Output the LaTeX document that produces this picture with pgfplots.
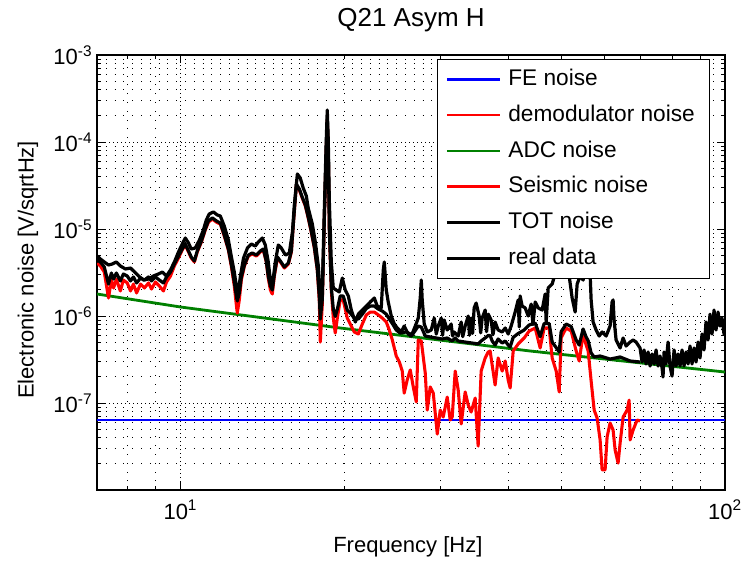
\documentclass[border=0pt]{standalone}
\usepackage{fontspec}
\setmainfont{Liberation Sans}
\usepackage{pgfplots}
\pgfplotsset{compat=1.18}
\definecolor{mgreen}{RGB}{0,128,0}

\begin{document}
\begin{tikzpicture}
\path[use as bounding box] (-72.75pt,-57.75pt) rectangle (483pt,367.5pt);
\begin{axis}[
  at={(0pt,0pt)}, anchor=south west,
  scale only axis, width=471pt, height=326.25pt,
  xmode=log, ymode=log,
  xmin=7.03, xmax=100, ymin=1e-8, ymax=1e-3,
  xtick={10,100},
  xticklabels={10\textsuperscript{1},10\textsuperscript{2}},
  ytick={1e-7,1e-6,1e-5,1e-4,1e-3},
  yticklabels={10\textsuperscript{-7},10\textsuperscript{-6},10\textsuperscript{-5},10\textsuperscript{-4},10\textsuperscript{-3}},
  minor xtick={8,9,20,30,40,50,60,70,80,90},
  minor ytick={2e-8,3e-8,4e-8,5e-8,6e-8,7e-8,8e-8,9e-8,
               2e-7,3e-7,4e-7,5e-7,6e-7,7e-7,8e-7,9e-7,
               2e-6,3e-6,4e-6,5e-6,6e-6,7e-6,8e-6,9e-6,
               2e-5,3e-5,4e-5,5e-5,6e-5,7e-5,8e-5,9e-5,
               2e-4,3e-4,4e-4,5e-4,6e-4,7e-4,8e-4,9e-4},
  tick align=inside, major tick length=6pt, minor tick length=3pt,
  tick style={black, line width=0.6pt},
  grid=both,
  major grid style={black, line width=0.6pt, dash pattern=on 0.6pt off 2.4pt},
  minor grid style={black, line width=0.6pt, dash pattern=on 0.6pt off 6pt},
  axis line style={black, line width=0.8pt},
  tick label style={font=\fontsize{16.5}{19}\selectfont},
  xticklabel style={yshift=-4pt},
  title={Q21 Asym H},
  title style={at={(0.5,1.0626)}, anchor=center, font=\fontsize{19.5}{23}\selectfont},
  xlabel={Frequency [Hz]},
  xlabel style={at={(0.495,-0.131)}, anchor=center, font=\fontsize{16.5}{19}\selectfont},
  ylabel={Electronic noise [V/sqrtHz]},
  ylabel style={at={(-0.110,0.506)}, anchor=center, font=\fontsize{16.5}{19}\selectfont},
  legend style={at={(0.976,0.991)}, anchor=north east, draw=black, line width=0.6pt,
    fill=white, font=\fontsize{17}{20}\selectfont, inner xsep=6pt, inner ysep=7pt,
    row sep=10.9pt, nodes={inner xsep=5pt, inner ysep=0pt, text height=12.5pt, text depth=3.5pt}},
  legend cell align=left,
  legend image code/.code={\draw[#1] (0pt,0pt) -- (40pt,0pt);},
  every axis plot/.append style={line join=round},
]
% FE noise
\addplot[blue, line width=2.1pt] coordinates {(7.03,6.37e-8) (100,6.37e-8)};
\addlegendentry{FE noise}
\addlegendimage{color=red, line width=1.1pt}
\addlegendentry{demodulator noise}
% ADC noise
\addplot[mgreen, line width=2.1pt] coordinates {
(7.03,1.79e-6) (10,1.27e-6) (19.66,7.28e-7) (43.88,3.96e-7) (100,2.27e-7)};
\addlegendentry{ADC noise}
% Seismic noise
\addplot[red, line width=2.3pt] coordinates {
(7.04,4.07e-6) (7.13,3.76e-6) (7.25,3.20e-6) (7.38,1.61e-6) (7.47,2.59e-6) (7.54,2.10e-6) (7.63,2.66e-6) (7.76,1.94e-6) (7.86,2.59e-6) (7.99,2.40e-6) (8.10,1.94e-6) (8.20,2.33e-6) (8.31,1.84e-6) (8.45,2.33e-6) (8.59,2.10e-6) (8.74,2.40e-6) (8.85,2.04e-6) (9.00,2.46e-6) (9.15,2.21e-6) (9.31,1.94e-6) (9.43,2.46e-6) (9.59,2.88e-6) (9.75,3.76e-6) (9.92,4.64e-6)
(10.08,5.74e-6) (10.21,6.55e-6) (10.35,5.44e-6) (10.47,4.64e-6) (10.61,4.18e-6) (10.74,5.44e-6) (10.93,7.09e-6) (11.11,9.73e-6) (11.26,1.20e-5) (11.45,1.30e-5) (11.64,1.20e-5) (11.84,1.14e-5) (12.04,8.30e-6) (12.25,5.74e-6) (12.40,3.76e-6) (12.56,2.21e-6) (12.67,1.34e-6) (12.72,1.08e-6) (12.83,1.53e-6) (12.94,2.59e-6) (13.11,3.76e-6) (13.33,4.89e-6) (13.55,5.16e-6) (13.79,4.89e-6)
(14.02,5.44e-6) (14.20,5.74e-6) (14.38,4.18e-6) (14.50,2.73e-6) (14.63,1.99e-6) (14.75,1.79e-6) (14.88,2.88e-6) (15.07,4.64e-6) (15.26,4.18e-6) (15.52,3.56e-6) (15.79,3.96e-6) (15.99,5.44e-6) (16.12,1.11e-5) (16.33,3.20e-5) (16.54,2.81e-5) (16.74,2.27e-5) (16.96,1.84e-5) (17.17,1.34e-5) (17.39,9.23e-6) (17.62,6.05e-6) (17.84,3.38e-6) (17.99,1.53e-6)
(18.07,5.02e-7) (18.22,1.34e-6) (18.38,1.27e-5) (18.53,8.09e-5) (18.61,1.79e-4) (18.69,8.09e-5) (18.77,9.73e-6) (18.93,1.99e-6) (19.09,9.48e-7) (19.25,6.37e-7) (19.42,9.48e-7) (19.66,1.53e-6) (19.91,1.53e-6) (20.25,9.48e-7) (20.51,8.09e-7) (20.86,6.55e-7) (21.22,6.21e-7) (21.58,8.09e-7) (21.95,1.03e-6) (22.32,1.11e-6) (22.70,1.11e-6) (23.09,1.03e-6) (23.48,9.48e-7) (23.88,8.53e-7) (24.19,6.90e-7) (24.50,5.30e-7) (24.91,3.47e-7)
(25.24,2.96e-7) (25.55,2.33e-7) (25.76,1.30e-7) (26.09,1.84e-7) (26.43,2.40e-7) (26.77,1.53e-7) (27.11,1.03e-7) (27.34,5.30e-7) (27.69,5.16e-7) (28.16,2.21e-7) (28.40,8.30e-8) (28.76,1.53e-7) (29.13,1.30e-7) (29.63,4.40e-8) (30.00,8.30e-8) (30.38,6.90e-8) (30.90,1.17e-7) (31.29,6.37e-8) (31.56,6.90e-8) (31.96,2.33e-7) (32.37,1.41e-7) (32.78,5.74e-8) (33.34,1.34e-7) (33.77,9.48e-8) (34.19,7.88e-8) (34.78,1.14e-7) (35.22,3.20e-8)
(35.67,2.33e-7) (36.28,3.29e-7) (36.75,3.86e-7) (37.05,3.96e-7) (37.37,2.73e-7) (37.84,1.61e-7) (38.33,3.29e-7) (38.99,2.33e-7) (39.49,3.04e-7) (39.99,1.84e-7) (40.32,1.49e-7) (40.84,3.96e-7) (41.71,4.77e-7) (42.78,5.59e-7) (43.70,6.72e-7) (44.82,7.28e-7) (45.77,4.29e-7) (46.55,7.28e-7) (47.55,7.28e-7) (48.16,3.29e-7) (48.98,2.33e-7) (49.61,1.34e-7)
(50.02,5.59e-7) (51.09,7.28e-7) (52.18,6.72e-7) (53.30,3.96e-7) (53.98,3.04e-7) (54.89,6.21e-7) (55.59,4.64e-7) (56.07,3.96e-7) (56.78,1.79e-7) (57.51,8.30e-8) (58.24,6.72e-8) (58.98,3.76e-8) (59.48,1.70e-8) (60.24,1.70e-8) (60.75,4.07e-8) (61.52,5.89e-8) (62.31,4.89e-8) (62.84,2.88e-8) (63.64,2.04e-8) (64.18,3.47e-8) (65.00,6.90e-8) (66.11,8.30e-8) (66.68,1.08e-7) (66.95,3.76e-8) (67.81,4.89e-8) (68.97,6.37e-8) (69.83,6.21e-8)};
\addlegendentry{Seismic noise}
% TOT noise
\addplot[black, line width=2.4pt] coordinates {
(7.04,4.40e-6) (7.13,4.18e-6) (7.25,3.66e-6) (7.38,2.33e-6) (7.47,3.12e-6) (7.54,2.66e-6) (7.63,3.12e-6) (7.76,2.53e-6) (7.86,3.04e-6) (7.99,2.88e-6) (8.10,2.53e-6) (8.20,2.81e-6) (8.31,2.40e-6) (8.45,2.73e-6) (8.59,2.59e-6) (8.74,2.81e-6) (8.85,2.53e-6) (9.00,2.81e-6) (9.15,2.59e-6) (9.31,2.40e-6) (9.43,2.81e-6) (9.59,3.20e-6) (9.75,3.96e-6) (9.92,4.89e-6)
(10.08,5.89e-6) (10.21,6.72e-6) (10.35,5.59e-6) (10.47,4.77e-6) (10.61,4.29e-6) (10.74,5.59e-6) (10.93,7.28e-6) (11.11,1.00e-5) (11.26,1.24e-5) (11.45,1.34e-5) (11.64,1.24e-5) (11.84,1.17e-5) (12.04,8.53e-6) (12.25,5.89e-6) (12.40,3.96e-6) (12.56,2.46e-6) (12.67,1.70e-6) (12.72,1.49e-6) (12.83,1.84e-6) (12.94,2.81e-6) (13.11,3.86e-6) (13.33,5.02e-6) (13.55,5.30e-6) (13.79,5.02e-6)
(14.02,5.59e-6) (14.20,5.89e-6) (14.38,4.29e-6) (14.50,2.88e-6) (14.63,2.21e-6) (14.75,1.99e-6) (14.88,3.04e-6) (15.07,4.77e-6) (15.26,4.29e-6) (15.52,3.66e-6) (15.79,4.07e-6) (15.99,5.59e-6) (16.12,1.14e-5) (16.33,3.29e-5) (16.54,2.88e-5) (16.74,2.33e-5) (16.96,1.89e-5) (17.17,1.37e-5) (17.39,9.48e-6) (17.62,6.21e-6) (17.84,3.47e-6) (17.99,1.70e-6)
(18.07,9.23e-7) (18.22,1.53e-6) (18.38,1.30e-5) (18.53,8.30e-5) (18.61,1.84e-4) (18.69,8.30e-5) (18.77,1.00e-5) (18.93,2.15e-6) (19.09,1.20e-6) (19.25,9.90e-7) (19.42,1.20e-6) (19.66,1.70e-6) (19.91,1.70e-6) (20.25,1.17e-6) (20.51,1.08e-6) (20.86,9.48e-7) (21.22,9.23e-7) (21.58,1.05e-6) (21.95,1.22e-6) (22.32,1.30e-6) (22.70,1.30e-6) (23.09,1.20e-6) (23.48,1.14e-6) (23.88,1.05e-6) (24.19,9.23e-7) (24.50,8.20e-7) (24.91,6.90e-7)
(25.33,6.37e-7) (25.98,6.55e-7) (26.65,6.05e-7) (27.34,7.67e-7) (27.69,7.47e-7) (28.16,5.89e-7) (28.76,5.74e-7) (29.50,5.59e-7) (30.26,5.44e-7) (30.90,5.59e-7) (31.56,5.16e-7) (31.96,5.59e-7) (32.37,5.16e-7) (33.34,5.02e-7) (34.34,4.89e-7) (35.22,4.77e-7) (35.67,5.16e-7) (36.28,5.59e-7) (36.75,5.97e-7) (37.05,5.97e-7) (37.37,5.16e-7) (37.84,4.64e-7) (38.33,5.44e-7) (38.99,4.89e-7) (39.49,5.16e-7) (39.99,4.64e-7)
(40.32,4.40e-7) (40.84,5.69e-7) (41.71,6.29e-7) (42.78,6.90e-7) (43.70,7.88e-7) (44.82,8.30e-7) (45.77,5.78e-7) (46.55,8.20e-7) (47.55,8.20e-7) (48.16,5.02e-7) (48.98,4.33e-7) (49.61,3.86e-7) (50.02,6.63e-7) (51.09,8.09e-7) (52.18,7.57e-7) (53.30,5.30e-7) (53.98,4.64e-7) (54.89,7.09e-7) (55.59,5.74e-7) (56.07,5.20e-7) (56.78,3.76e-7) (57.51,3.38e-7) (58.98,3.47e-7) (61.52,3.20e-7) (64.18,3.38e-7) (66.95,3.04e-7) (69.83,2.96e-7)};
\addlegendentry{TOT noise}
% real data
\addplot[black, line width=2.4pt] coordinates {
(7.04,4.89e-6) (7.13,4.52e-6) (7.25,4.18e-6) (7.38,3.86e-6) (7.50,3.96e-6) (7.63,4.18e-6) (7.76,3.76e-6) (7.93,3.47e-6) (8.10,3.56e-6) (8.24,3.20e-6) (8.38,2.88e-6) (8.56,2.59e-6) (8.74,2.66e-6) (8.92,2.88e-6) (9.11,3.04e-6) (9.27,3.20e-6) (9.43,2.88e-6) (9.59,3.38e-6) (9.75,4.18e-6) (9.92,5.44e-6)
(10.08,6.72e-6) (10.21,7.88e-6) (10.35,6.90e-6) (10.47,5.89e-6) (10.65,6.05e-6) (10.84,7.47e-6) (11.02,9.73e-6) (11.16,1.27e-5) (11.30,1.49e-5) (11.50,1.57e-5) (11.69,1.45e-5) (11.84,1.41e-5) (12.04,1.08e-5) (12.25,7.47e-6) (12.40,4.89e-6) (12.56,3.20e-6) (12.67,2.21e-6) (12.78,1.89e-6) (12.89,2.88e-6) (13.06,4.64e-6) (13.28,6.05e-6) (13.50,6.72e-6) (13.73,6.37e-6) (13.90,7.09e-6)
(14.14,7.88e-6) (14.32,6.55e-6) (14.50,4.18e-6) (14.63,2.59e-6) (14.75,2.21e-6) (14.94,4.18e-6) (15.13,6.55e-6) (15.32,6.05e-6) (15.59,5.02e-6) (15.85,5.30e-6) (16.06,9.23e-6) (16.19,1.89e-5) (16.40,4.29e-5) (16.60,3.86e-5) (16.81,2.96e-5) (17.03,2.40e-5) (17.17,1.74e-5) (17.47,1.14e-5) (17.69,7.09e-6) (17.92,3.76e-6)
(18.07,1.70e-6) (18.22,1.89e-6) (18.38,1.65e-5) (18.53,1.05e-4) (18.61,2.33e-4) (18.69,1.05e-4) (18.77,2.15e-5) (18.93,4.18e-6) (19.09,2.10e-6) (19.33,1.99e-6) (19.58,1.89e-6) (19.83,2.73e-6) (20.08,1.99e-6) (20.34,1.70e-6) (20.60,1.17e-6) (20.95,8.53e-7) (21.22,1.05e-6) (21.58,1.17e-6) (21.95,1.30e-6) (22.32,1.45e-6) (22.70,1.61e-6) (22.99,1.30e-6) (23.38,1.24e-6) (23.58,3.38e-6) (23.68,4.18e-6) (23.88,1.99e-6) (24.08,1.45e-6) (24.39,1.00e-6) (24.71,8.09e-7)
(25.02,7.28e-7) (25.44,6.55e-7) (25.76,7.67e-7) (26.20,6.21e-7) (26.54,5.89e-7) (27.00,7.67e-7) (27.34,9.48e-7) (27.57,1.61e-6) (27.69,2.59e-6) (27.80,1.53e-6) (28.04,8.09e-7) (28.40,6.55e-7) (28.88,6.90e-7) (29.25,9.48e-7) (29.50,6.20e-7) (29.75,7.67e-7) (30.13,9.48e-7) (30.30,6.00e-7) (30.51,8.99e-7) (30.90,6.90e-7) (31.42,8.09e-7) (31.60,5.90e-7) (31.83,6.55e-7) (32.37,5.89e-7) (32.78,8.53e-7) (33.00,5.80e-7) (33.34,7.67e-7) (33.77,1.00e-6) (33.95,6.00e-7) (34.19,9.48e-7) (34.40,6.30e-7) (34.63,1.24e-6) (34.92,1.41e-6)
(35.37,1.00e-6) (35.60,6.40e-7) (35.82,9.48e-7) (36.28,1.17e-6) (36.50,6.60e-7) (36.75,1.05e-6) (37.21,8.99e-7) (37.50,6.10e-7) (37.84,8.53e-7) (38.33,6.90e-7) (38.99,6.55e-7) (39.49,7.28e-7) (39.99,6.21e-7) (40.49,7.67e-7) (41.18,1.11e-6) (41.71,1.53e-6) (41.90,7.50e-7) (42.06,1.70e-6) (42.42,1.30e-6) (42.96,1.24e-6) (43.51,1.00e-6) (44.06,1.37e-6) (44.40,8.00e-7) (44.82,1.45e-6) (45.39,1.24e-6) (46.16,1.17e-6) (46.75,1.79e-6) (46.95,8.50e-7) (47.35,2.10e-6) (48.16,2.33e-6) (48.98,3.38e-6)
(49.81,5.74e-6) (50.45,5.44e-6) (51.09,7.47e-6) (51.75,2.88e-6) (52.40,1.61e-6) (53.07,1.11e-6) (53.52,2.33e-6) (54.20,2.88e-6) (54.89,2.59e-6) (55.59,3.96e-6) (56.31,5.74e-6) (56.78,1.53e-6) (57.26,8.53e-7) (57.99,6.90e-7) (58.74,5.89e-7) (59.48,6.55e-7) (60.50,5.89e-7) (61.52,7.67e-7) (62.04,1.45e-6) (62.31,1.53e-6) (62.57,8.99e-7) (63.10,5.30e-7) (64.18,4.29e-7) (65.00,5.59e-7) (65.83,4.52e-7) (66.95,5.02e-7) (67.81,5.30e-7) (68.67,5.02e-7)
(69.83,4.29e-7) (70.42,2.96e-7) (71.02,4.07e-7) (71.62,2.81e-7) (72.24,3.86e-7) (72.85,2.66e-7) (73.47,3.66e-7) (74.10,2.81e-7) (74.72,4.07e-7) (75.36,2.66e-7) (75.99,3.47e-7) (76.64,2.53e-7) (76.96,1.99e-7) (77.29,3.86e-7) (77.94,2.81e-7) (78.61,5.02e-7) (79.27,2.66e-7) (79.94,2.04e-7) (80.63,4.07e-7) (81.31,2.66e-7) (82.00,3.66e-7) (82.69,2.66e-7) (83.39,4.07e-7) (84.10,2.66e-7)
(84.82,3.86e-7) (85.54,2.81e-7) (86.26,4.52e-7) (86.99,2.81e-7) (87.74,4.29e-7) (88.48,2.96e-7) (89.24,5.02e-7) (89.98,3.29e-7) (90.74,6.21e-7) (91.52,4.07e-7) (92.29,8.53e-7) (93.08,5.30e-7) (93.86,1.05e-6) (94.66,6.21e-7) (95.47,1.17e-6) (96.27,6.90e-7) (97.10,1.11e-6) (97.91,7.67e-7) (98.74,9.48e-7) (99.58,6.21e-7) (100,6.55e-7)};
\addlegendentry{real data}
\end{axis}
\end{tikzpicture}
\end{document}
